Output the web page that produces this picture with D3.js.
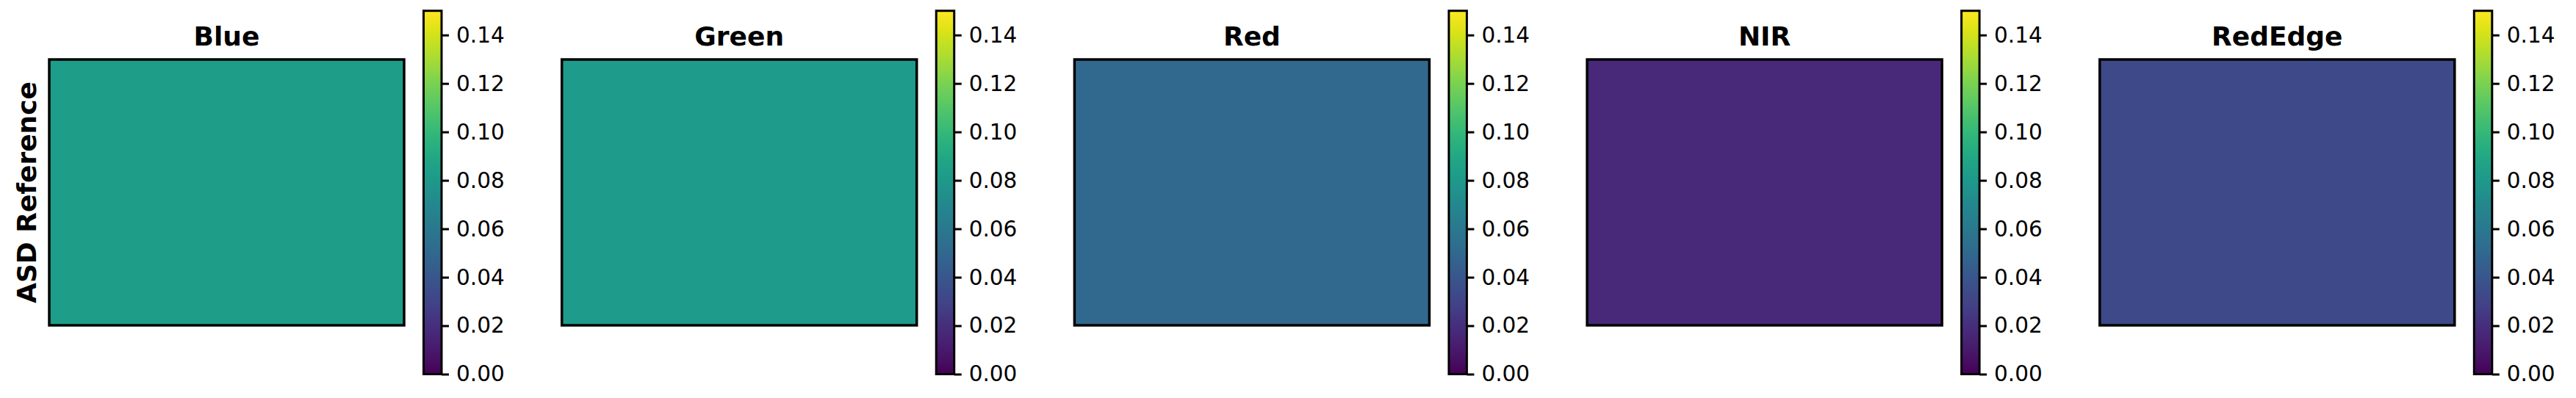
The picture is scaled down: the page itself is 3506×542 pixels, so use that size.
<!DOCTYPE html>
<html lang="en">

<head>
    <meta charset="UTF-8">
    <title>ASD Reference bands</title>
    <script src="https://d3js.org/d3.v7.min.js"></script>
    <style>
        body {
            margin: 0;
            padding: 0;
            background: #fff;
            font-family: "DejaVu Sans", sans-serif;
        }

        .title {
            font-size: 36px;
            font-weight: bold;
        }

        .ylabel {
            font-size: 36px;
            font-weight: bold;
        }

        .cbar-axis text {
            font-family: "DejaVu Sans", sans-serif;
            font-size: 29.5px;
        }

        .cbar-axis line {
            stroke: #000;
            stroke-width: 3px;
        }
    </style>
</head>

<body>
    <div id="chart"></div>

    <script>
        // band names and the (uniform) reflectance shown in each panel
        const bands = ["Blue", "Green", "Red", "NIR", "RedEdge"];
        const reflectance = [0.083, 0.082, 0.050, 0.0165, 0.033];
        const rowLabel = "ASD Reference";

        // colour limits and colourbar ticks
        const colorDomain = [0, 0.15];
        const cbarTicks = [0.00, 0.02, 0.04, 0.06, 0.08, 0.10, 0.12, 0.14];

        const width = 3506;
        const height = 542;

        const svg = d3.select("#chart")
            .append("svg")
            .attr("width", width)
            .attr("height", height);

        // one band per panel
        const x = d3.scaleBand()
            .domain(bands)
            .range([67, 67 + 5 * 697.7])
            .paddingInner(0);

        const imgW = 483;
        const imgTop = 81;
        const imgBottom = 443;
        const cbarOffset = 509.5;
        const cbarW = 24.5;

        const color = d3.scaleSequential(d3.interpolateViridis).domain(colorDomain);

        const y = d3.scaleLinear()
            .domain(colorDomain)
            .range([509.5, 14.7]);

        // gradient for the colourbars
        const grad = svg.append("defs")
            .append("linearGradient")
            .attr("id", "viridis")
            .attr("x1", 0).attr("y1", 1)
            .attr("x2", 0).attr("y2", 0);

        d3.range(0, 1.0001, 0.02).forEach(t => {
            grad.append("stop")
                .attr("offset", t)
                .attr("stop-color", d3.interpolateViridis(t));
        });

        const panels = svg.selectAll(".panel")
            .data(bands.map((b, i) => ({ band: b, value: reflectance[i] })))
            .enter().append("g")
            .attr("class", "panel")
            .attr("transform", d => `translate(${x(d.band)},0)`);

        // image (uniform value)
        panels.append("rect")
            .attr("x", 0)
            .attr("y", imgTop)
            .attr("width", imgW)
            .attr("height", imgBottom - imgTop)
            .attr("fill", d => color(d.value))
            .attr("stroke", "#000")
            .attr("stroke-width", 3.5);

        panels.append("text")
            .attr("class", "title")
            .attr("x", imgW / 2)
            .attr("y", 62)
            .attr("text-anchor", "middle")
            .text(d => d.band);

        // colourbar
        const cbar = panels.append("g")
            .attr("transform", `translate(${cbarOffset},0)`);

        cbar.append("rect")
            .attr("x", 0)
            .attr("y", y(colorDomain[1]))
            .attr("width", cbarW)
            .attr("height", y(colorDomain[0]) - y(colorDomain[1]))
            .attr("fill", "url(#viridis)")
            .attr("stroke", "#000")
            .attr("stroke-width", 3);

        cbar.append("g")
            .attr("class", "cbar-axis")
            .attr("transform", `translate(${cbarW},0)`)
            .call(d3.axisRight(y)
                .tickValues(cbarTicks)
                .tickFormat(d3.format(".2f"))
                .tickSize(10)
                .tickPadding(10))
            .call(g => g.select(".domain").remove())
            .call(g => g.selectAll("text").attr("fill", "#000"));

        // row label on the first panel
        svg.append("text")
            .attr("class", "ylabel")
            .attr("transform", `translate(49,${(imgTop + imgBottom) / 2}) rotate(-90)`)
            .attr("text-anchor", "middle")
            .text(rowLabel);
    </script>
</body>

</html>
